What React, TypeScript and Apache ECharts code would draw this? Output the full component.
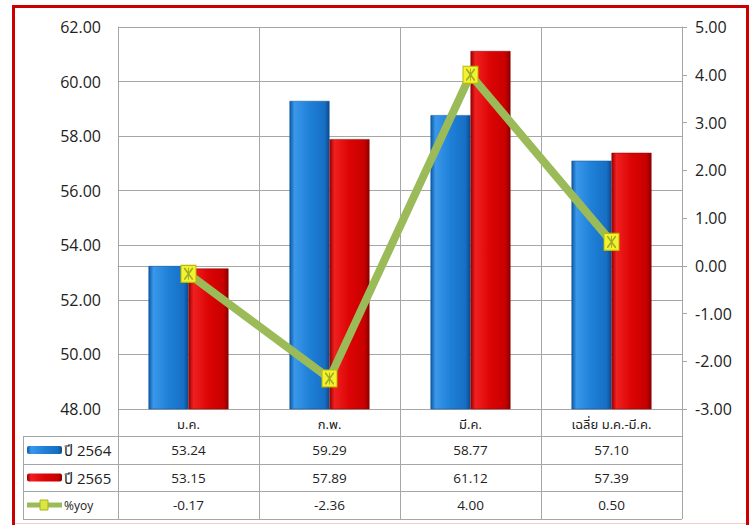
import React, { useEffect, useRef } from "react";
import * as echarts from "echarts";

const categories = ["ม.ค.", "ก.พ.", "มี.ค.", "เฉลี่ย ม.ค.-มี.ค."];
const series2564 = [53.24, 59.29, 58.77, 57.1];
const series2565 = [53.15, 57.89, 61.12, 57.39];
const yoy = [-0.17, -2.36, 4.0, 0.5];
const seriesNames = ["ปี 2564", "ปี 2565", "%yoy"];

const FONT = "'Open Sans', 'Noto Sans', 'Noto Sans Thai', Tahoma, sans-serif";
const W = 753;
const H = 525;
const GL = 118;
const GT = 27;
const GR = 682;
const GB = 409;
const ROWS = [409, 436, 464, 491, 519];
const TABLE_LEFT = 23;
const GRID_COLOR = "#a6a6a6";

const blueGrad = new echarts.graphic.LinearGradient(0, 0, 1, 0, [
  { offset: 0, color: "#0b5aa6" },
  { offset: 0.12, color: "#3a98ea" },
  { offset: 0.5, color: "#1f80d8" },
  { offset: 0.88, color: "#176fc4" },
  { offset: 1, color: "#0a4c90" },
]);
const redGrad = new echarts.graphic.LinearGradient(0, 0, 1, 0, [
  { offset: 0, color: "#9c0000" },
  { offset: 0.12, color: "#f02020" },
  { offset: 0.5, color: "#dc0404" },
  { offset: 0.88, color: "#c80000" },
  { offset: 1, color: "#8a0000" },
]);

export default function App() {
  const ref = useRef<HTMLDivElement>(null);
  useEffect(() => {
    if (!ref.current) return;
    const chart = echarts.init(ref.current, null, { renderer: "svg" });
    const n = categories.length;
    const colW = (GR - GL) / n;
    const graphics: any[] = [];
    graphics.push({
      type: "rect",
      shape: { x: 13.5, y: 6.5, width: 734, height: 530 },
      style: { fill: "none", stroke: "#cc0000", lineWidth: 3 },
      z: 100,
    });
    graphics.push({
      type: "line",
      shape: { x1: 15, y1: 523.5, x2: 746, y2: 523.5 },
      style: { stroke: "#f6caca", lineWidth: 1 },
    });
    for (let i = 1; i < ROWS.length; i++) {
      graphics.push({
        type: "line",
        shape: { x1: TABLE_LEFT, y1: ROWS[i] + 0.5, x2: GR, y2: ROWS[i] + 0.5 },
        style: { stroke: GRID_COLOR, lineWidth: 1 },
      });
    }
    graphics.push({
      type: "line",
      shape: { x1: TABLE_LEFT + 0.5, y1: ROWS[1], x2: TABLE_LEFT + 0.5, y2: ROWS[4] },
      style: { stroke: GRID_COLOR, lineWidth: 1 },
    });
    for (let i = 0; i <= n; i++) {
      const x = Math.round(GL + i * colW) + 0.5;
      graphics.push({
        type: "line",
        shape: { x1: x, y1: ROWS[0], x2: x, y2: ROWS[4] },
        style: { stroke: GRID_COLOR, lineWidth: 1 },
      });
    }
    const rowsData = [series2564, series2565, yoy];
    rowsData.forEach((arr, r) => {
      const cy = (ROWS[r + 1] + ROWS[r + 2]) / 2;
      arr.forEach((v, i) => {
        graphics.push({
          type: "text",
          x: GL + (i + 0.5) * colW,
          y: cy,
          style: {
            text: v.toFixed(2),
            font: `13.5px ${FONT}`,
            fill: "#222",
            align: "center",
            verticalAlign: "middle",
          },
        });
      });
      if (r < 2) {
        graphics.push({
          type: "rect",
          shape: { x: 27, y: cy - 4, width: 35, height: 8, r: 2 },
          style: { fill: r === 0 ? blueGrad : redGrad },
        });
      } else {
        graphics.push({
          type: "line",
          shape: { x1: 27, y1: cy, x2: 62, y2: cy },
          style: { stroke: "#9bbb59", lineWidth: 5 },
        });
        graphics.push({
          type: "rect",
          shape: { x: 40, y: cy - 5, width: 8, height: 10 },
          style: { fill: "#d8e840", stroke: "#aab020", lineWidth: 1 },
        });
      }
      graphics.push({
        type: "text",
        x: 64,
        y: cy,
        style: {
          text: seriesNames[r],
          font: r < 2 ? `15px ${FONT}` : `12px ${FONT}`,
          fill: "#222",
          align: "left",
          verticalAlign: "middle",
        },
      });
    });

    chart.setOption({
      animation: false,
      backgroundColor: "#ffffff",
      grid: { left: GL, top: GT, right: W - GR, bottom: H - GB, containLabel: false },
      xAxis: {
        type: "category",
        data: categories,
        boundaryGap: true,
        axisLine: { show: true, lineStyle: { color: GRID_COLOR } },
        axisTick: { show: false },
        splitLine: { show: true, interval: 0, lineStyle: { color: GRID_COLOR } },
        axisLabel: { fontFamily: FONT, fontSize: 13, color: "#222", margin: 8, interval: 0 },
      },
      yAxis: [
        {
          type: "value",
          min: 48,
          max: 62,
          interval: 2,
          axisLine: { show: true, lineStyle: { color: GRID_COLOR } },
          axisTick: { show: false },
          splitLine: { show: true, lineStyle: { color: GRID_COLOR } },
          axisLabel: {
            fontFamily: FONT,
            fontSize: 16,
            color: "#222",
            margin: 17,
            formatter: (v: number) => v.toFixed(2),
          },
        },
        {
          type: "value",
          min: -3,
          max: 5,
          interval: 1,
          position: "right",
          axisLine: { show: true, lineStyle: { color: GRID_COLOR } },
          axisTick: { show: true, length: 5, lineStyle: { color: GRID_COLOR } },
          splitLine: { show: false },
          axisLabel: {
            fontFamily: FONT,
            fontSize: 16,
            color: "#222",
            margin: 13,
            formatter: (v: number) => v.toFixed(2),
          },
        },
      ],
      series: [
        {
          name: seriesNames[0],
          type: "bar",
          data: series2564,
          barWidth: 40,
          barGap: "0%",
          itemStyle: { color: blueGrad, borderColor: "#0a4f95", borderWidth: 0.5 },
        },
        {
          name: seriesNames[1],
          type: "bar",
          data: series2565,
          barWidth: 40,
          barGap: "0%",
          itemStyle: { color: redGrad, borderColor: "#880000", borderWidth: 0.5 },
        },
        {
          name: seriesNames[2],
          type: "line",
          yAxisIndex: 1,
          data: yoy,
          z: 5,
          lineStyle: { color: "#9bbb59", width: 8 },
          symbol: "rect",
          symbolSize: [15, 17],
          itemStyle: { color: "#f2f230", borderColor: "#b8b800", borderWidth: 1 },
        },
        {
          name: "marker-x",
          type: "scatter",
          yAxisIndex: 1,
          data: yoy,
          z: 6,
          silent: true,
          symbol:
            "path://M0,0L1.2,0L10,10.8L10,12L8.8,12L0,1.2Z M8.8,0L10,0L10,1.2L1.2,12L0,12L0,10.8Z M4.5,0L5.5,0L5.5,12L4.5,12Z",
          symbolSize: [9, 12],
          itemStyle: { color: "#8a9a20" },
        },
      ],
      graphic: graphics,
    });
    return () => chart.dispose();
  }, []);
  return (
    <div
      ref={ref}
      style={{ position: "absolute", left: 0, top: 0, width: W, height: H }}
    />
  );
}
